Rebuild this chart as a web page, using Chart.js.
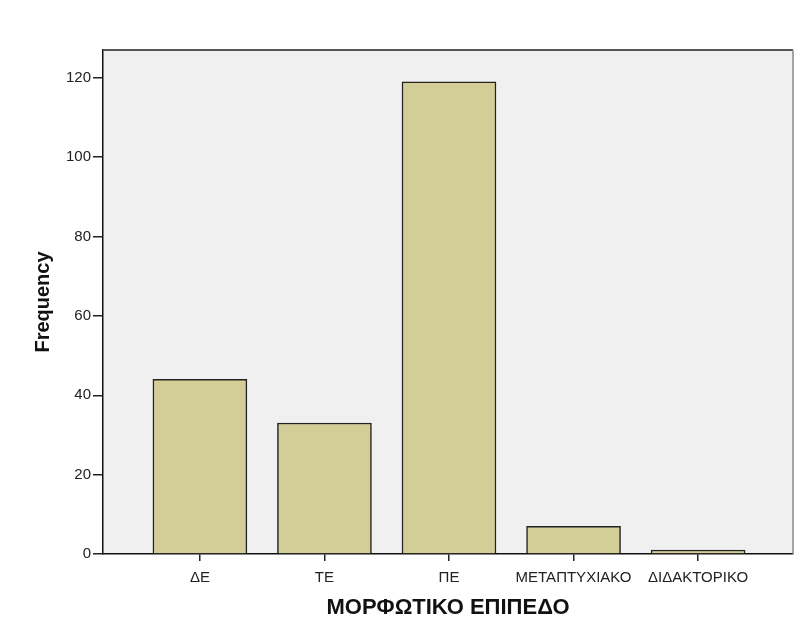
<!DOCTYPE html>
<html>
<head>
<meta charset="utf-8">
<script src="https://cdn.jsdelivr.net/npm/chart.js@4.4.1/dist/chart.umd.min.js"></script>
<style>
  html, body { margin: 0; padding: 0; background: #ffffff; }
  #wrap { width: 795px; height: 639px; position: relative; }
</style>
</head>
<body>
<div id="wrap"><canvas id="freq_chart" width="795" height="639"></canvas></div>
<script>
// categories and counts
const categories = ['ΔΕ', 'ΤΕ', 'ΠΕ', 'ΜΕΤΑΠΤΥΧΙΑΚΟ', 'ΔΙΔΑΚΤΟΡΙΚΟ'];
const positions = [1, 2, 3, 4, 5];
const frequency = [44, 33, 119, 7, 1];
const yTicks = [0, 20, 40, 60, 80, 100, 120];

const plotBg = {
    id: 'plotBg',
    beforeDraw(chart) {
        const { ctx, chartArea: a } = chart;
        ctx.save();
        ctx.fillStyle = '#f0f0f0';
        ctx.fillRect(a.left, a.top, a.right - a.left, a.bottom - a.top);
        ctx.restore();
    },
    afterDraw(chart) {
        const { ctx, chartArea: a } = chart;
        ctx.save();
        ctx.strokeStyle = '#555555';
        ctx.lineWidth = 2;
        ctx.beginPath();
        ctx.moveTo(a.left, a.top);
        ctx.lineTo(a.right, a.top);
        ctx.stroke();
        ctx.strokeStyle = '#8a8a8a';
        ctx.lineWidth = 1.5;
        ctx.beginPath();
        ctx.moveTo(a.right, a.top);
        ctx.lineTo(a.right, a.bottom);
        ctx.stroke();
        ctx.restore();
    }
};

const ctx = document.getElementById('freq_chart').getContext('2d');
const chart = new Chart(ctx, {
    type: 'bar',
    data: {
        datasets: [{
            label: 'Frequency',
            data: positions.map((p, i) => ({ x: p, y: frequency[i] })),
            backgroundColor: '#d3ce97',
            borderColor: '#222222',
            borderWidth: 1.5,
            barThickness: 94
        }]
    },
    options: {
        responsive: false,
        animation: false,
        layout: { padding: { top: 50, right: 2, left: 0, bottom: 0 } },
        plugins: {
            legend: { display: false },
            tooltip: { enabled: false }
        },
        scales: {
            x: {
                type: 'linear',
                min: 0.222,
                max: 5.762,
                offset: false,
                afterFit: s => { s.height = 85; },
                afterBuildTicks: s => { s.ticks = positions.map(v => ({ value: v })); },
                ticks: {
                    color: '#222222',
                    font: { family: 'Liberation Sans, Arial', size: 15 },
                    padding: 8,
                    maxRotation: 0,
                    autoSkip: false,
                    callback: v => categories[positions.indexOf(v)] || ''
                },
                grid: {
                    display: true,
                    offset: false,
                    drawOnChartArea: false,
                    drawTicks: true,
                    tickLength: 7,
                    color: '#222222',
                    lineWidth: 1.5
                },
                border: { display: true, color: '#111111', width: 1.5 },
                title: {
                    display: true,
                    text: 'ΜΟΡΦΩΤΙΚΟ ΕΠΙΠΕΔΟ',
                    color: '#111111',
                    font: { family: 'Liberation Sans, Arial', size: 22, weight: 'bold' },
                    padding: { top: 0, bottom: 18 }
                }
            },
            y: {
                min: 0,
                max: 127,
                afterFit: s => { s.width = 103; },
                afterBuildTicks: s => { s.ticks = yTicks.map(v => ({ value: v })); },
                ticks: {
                    color: '#222222',
                    font: { family: 'Liberation Sans, Arial', size: 15 },
                    padding: 2
                },
                grid: {
                    display: true,
                    drawOnChartArea: false,
                    drawTicks: true,
                    tickLength: 10,
                    color: '#222222',
                    lineWidth: 1.5
                },
                border: { display: true, color: '#111111', width: 1.5 },
                title: {
                    display: true,
                    text: 'Frequency',
                    color: '#111111',
                    font: { family: 'Liberation Sans, Arial', size: 20, weight: 'bold' },
                    padding: { top: 31, bottom: 0 }
                }
            }
        }
    },
    plugins: [plotBg]
});
</script>
</body>
</html>
